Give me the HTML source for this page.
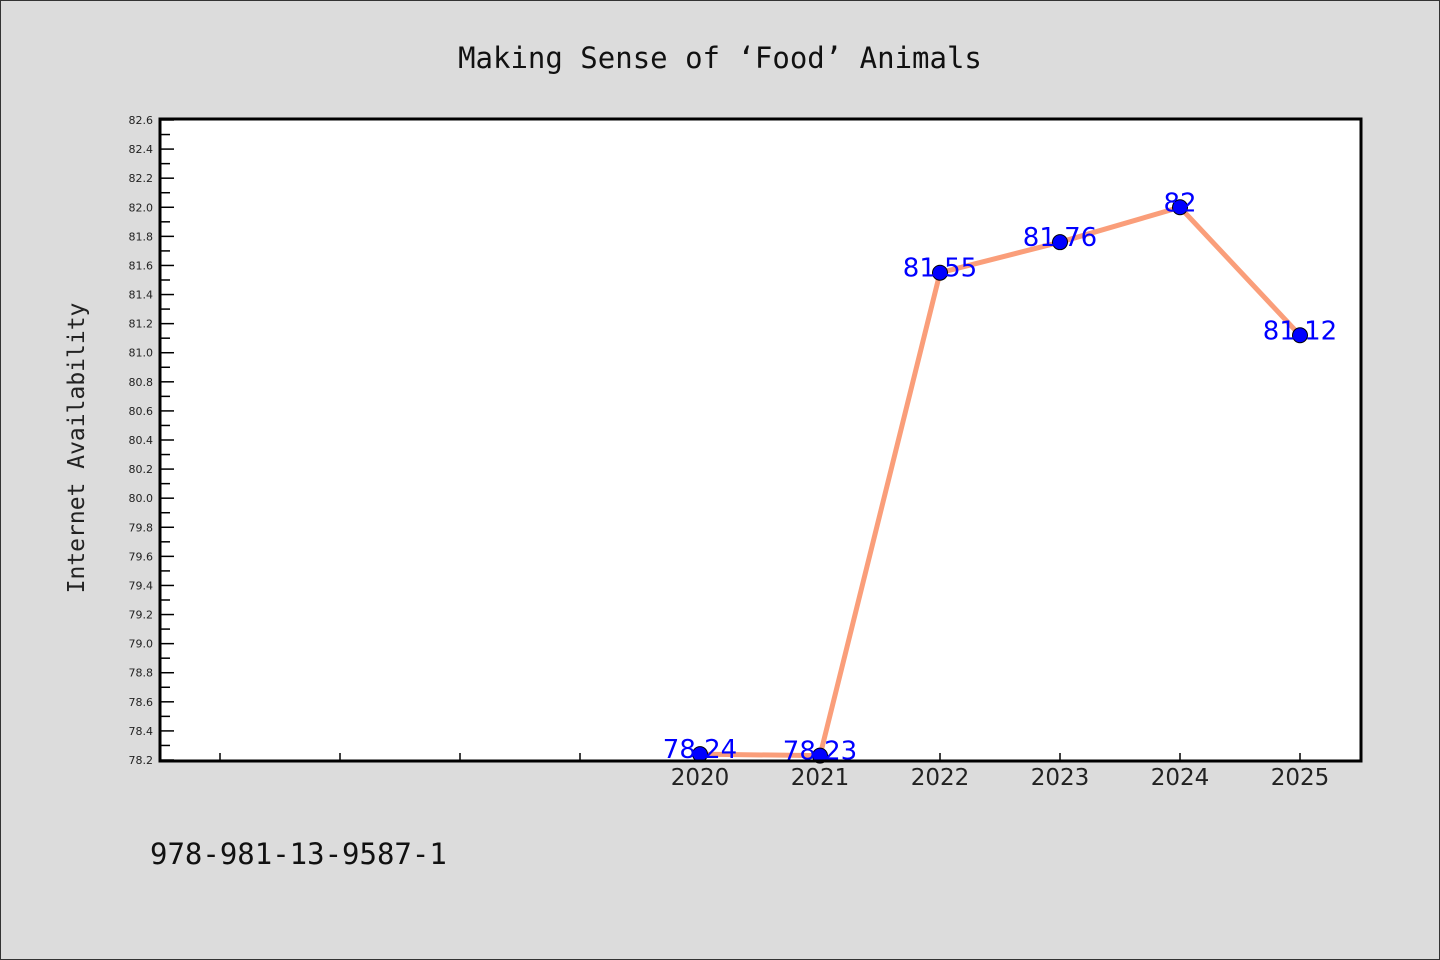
<!DOCTYPE html>
<html><head><meta charset="utf-8"><style>
body{margin:0;background:#dcdcdc;}
svg{display:block}
</style></head><body>
<svg width="1440" height="960" xmlns="http://www.w3.org/2000/svg">
<rect x="0.5" y="0.5" width="1439" height="959" fill="#dcdcdc" stroke="#333"/>
<text x="720" y="68" text-anchor="middle" font-family="DejaVu Sans Mono, Liberation Mono, monospace" font-size="29" fill="#111">Making Sense of ‘Food’ Animals</text>
<rect x="160" y="119" width="1201" height="642" fill="#fff"/>
<g id="axes"></g>
<g id="series"></g>
<rect x="160" y="119" width="1201" height="642" fill="none" stroke="#000" stroke-width="3"/>
<text transform="translate(84,448) rotate(-90)" text-anchor="middle" font-family="DejaVu Sans Mono, Liberation Mono, monospace" font-size="23" fill="#222">Internet Availability</text>
<text x="150" y="864" font-family="DejaVu Sans Mono, Liberation Mono, monospace" font-size="29" fill="#111">978-981-13-9587-1</text>
</svg>
<script>
const categories = ["", "", "", "", "2020", "2021", "2022", "2023", "2024", "2025"];
const values = [null, null, null, null, 78.24, 78.23, 81.55, 81.76, 82, 81.12];
const valueLabels = ["", "", "", "", "78.24", "78.23", "81.55", "81.76", "82", "81.12"];
const yTicks = [78.2,78.4,78.6,78.8,79.0,79.2,79.4,79.6,79.8,80.0,80.2,80.4,80.6,80.8,81.0,81.2,81.4,81.6,81.8,82.0,82.2,82.4,82.6];
const yMin = 78.2, yMax = 82.6;
const NS = "http://www.w3.org/2000/svg";
function xs(i){return 220 + i*120;}
function ys(v){return 760 - (v - yMin)/(yMax - yMin)*640;}
const axes = document.getElementById('axes'), series = document.getElementById('series');
function mk(tag, attrs, parent){const e=document.createElementNS(NS,tag);for(const k in attrs)e.setAttribute(k,attrs[k]);parent.appendChild(e);return e;}
yTicks.forEach((t,i)=>{
  const y = ys(t);
  const tk = mk('line',{x1:160,x2:174,y1:y,y2:y,stroke:'#000','stroke-width':1.5},axes);
  
  
  if(i<yTicks.length-1){
    const ym = ys(t+0.1);
    const mn = mk('line',{x1:160,x2:170,y1:ym,y2:ym,stroke:'#000','stroke-width':1.5},axes);
    
    
  }
  const lb = mk('text',{x:153,y:y+4,'text-anchor':'end','font-family':'DejaVu Sans, Liberation Sans, sans-serif','font-size':11,fill:'#222'},axes);
  lb.textContent = t.toFixed(1);
  
  
});
categories.forEach((c,i)=>{
  const x = xs(i);
  const tk = mk('line',{x1:x,x2:x,y1:761,y2:753,stroke:'#000','stroke-width':1.5},axes);
  
  
  if(c){
    const lb = mk('text',{x:x,y:785,'text-anchor':'middle','font-family':'DejaVu Sans, Liberation Sans, sans-serif','font-size':23,fill:'#222'},axes);
    lb.textContent = c;
    
    
  }
});
let pts = [];
values.forEach((v,i)=>{ if(v!==null) pts.push([xs(i),ys(v)]); });
const line = mk('polyline',{points:pts.map(p=>p.join(',')).join(' '),fill:'none',stroke:'#fa9e7a','stroke-width':5,'stroke-linejoin':'round'},series);


values.forEach((v,i)=>{
  if(v===null) return;
  const x = xs(i), y = ys(v);
  const c = mk('circle',{cx:x,cy:y,r:7.5,fill:'#0000ff',stroke:'#000','stroke-width':1},series);
  
  
  const t = mk('text',{x:x,y:y+4,'text-anchor':'middle','font-family':'DejaVu Sans, Liberation Sans, sans-serif','font-size':26,fill:'#0000ff'},series);
  t.textContent = valueLabels[i];
  
  
});
</script>
</body></html>
